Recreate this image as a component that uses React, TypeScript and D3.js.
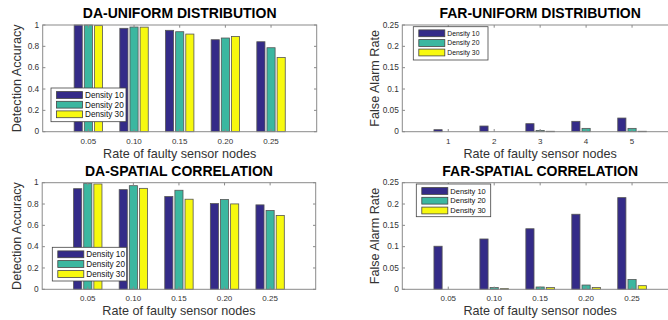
import React from "react";
import * as d3 from "d3";

// categories / tick labels
const rateLabels = ["0.05", "0.10", "0.15", "0.20", "0.25"];
const indexLabels = ["1", "2", "3", "4", "5"];
const seriesNames = ["Density 10", "Density 20", "Density 30"];
const colors = ["#342b88", "#3bb7a0", "#f7f90f"];

const daTicks = [0, 0.2, 0.4, 0.6, 0.8, 1];
const farTicks = [0, 0.05, 0.1, 0.15, 0.2, 0.25];

// values
const daUniform10 = [1.0, 0.969, 0.95, 0.862, 0.843];
const daUniform20 = [1.0, 0.981, 0.937, 0.878, 0.787];
const daUniform30 = [0.994, 0.98, 0.915, 0.893, 0.696];

const farUniform10 = [0.0047, 0.0133, 0.0188, 0.0243, 0.032];
const farUniform20 = [0, 0, 0.003, 0.0078, 0.0078];
const farUniform30 = [0, 0, 0.001, 0, 0.001];

const daSpatial10 = [0.944, 0.935, 0.87, 0.804, 0.792];
const daSpatial20 = [0.994, 0.972, 0.929, 0.842, 0.739];
const daSpatial30 = [0.988, 0.947, 0.845, 0.801, 0.693];

const farSpatial10 = [0.101, 0.118, 0.142, 0.176, 0.215];
const farSpatial20 = [0, 0.004, 0.0054, 0.01, 0.023];
const farSpatial30 = [0, 0.0015, 0.004, 0.004, 0.0085];

const axisColor = "#8a8a8a";
const textColor = "#333";
const font = "'Liberation Sans', Arial, Helvetica, sans-serif";

type Legend = { x: number; y: number; w: number; h: number; rows: number[]; fs: number };

type PanelProps = {
  title: string;
  ylabel: string;
  ylabelGap: number;
  left: number;
  top: number;
  width: number;
  height: number;
  xLabels: string[];
  series: number[][];
  yMax: number;
  yTicks: number[];
  legend: Legend;
};

function Panel(p: PanelProps) {
  const x = d3.scaleLinear().domain([0, 6]).range([p.left, p.left + p.width]);
  const y = d3.scaleLinear().domain([0, p.yMax]).range([p.top + p.height, p.top]);
  const bottom = p.top + p.height;
  const right = p.left + p.width;
  const cx = p.left + p.width / 2;
  const group = 3 / 4.5;
  const slot = group / 3;
  const bw = slot * 0.8;
  const tl = 2.7;
  const xt = d3.range(1, 6);
  const yFmt = (v: number) => String(+v.toFixed(2));
  const lg = p.legend;

  return (
    <g fontFamily={font}>
      {/* bars */}
      {p.series.map((vals, si) =>
        vals.map((v, i) => {
          const c = i + 1 + (si - 1) * slot;
          const x0 = x(c - bw / 2);
          const x1 = x(c + bw / 2);
          const h = bottom - y(v);
          if (h <= 0) return null;
          return (
            <rect
              key={`${si}-${i}`}
              x={x0}
              y={y(v)}
              width={x1 - x0}
              height={h}
              fill={colors[si]}
              stroke="#555"
              strokeWidth={0.8}
            />
          );
        })
      )}
      {/* box */}
      <rect x={p.left} y={p.top} width={p.width} height={p.height} fill="none" stroke={axisColor} strokeWidth={1} />
      {/* ticks */}
      {xt.map((t) => (
        <g key={"xt" + t}>
          <line x1={x(t)} x2={x(t)} y1={bottom} y2={bottom - tl} stroke={axisColor} />
          <line x1={x(t)} x2={x(t)} y1={p.top} y2={p.top + tl} stroke={axisColor} />
          <text x={x(t)} y={bottom + 11.8} fontSize={8} fill={textColor} textAnchor="middle">
            {p.xLabels[t - 1]}
          </text>
        </g>
      ))}
      {p.yTicks.map((t) => (
        <g key={"yt" + t}>
          <line x1={p.left} x2={p.left + tl} y1={y(t)} y2={y(t)} stroke={axisColor} />
          <line x1={right} x2={right - tl} y1={y(t)} y2={y(t)} stroke={axisColor} />
          <text x={p.left - 3.5} y={y(t)} dy="0.33em" fontSize={8.3} fill={textColor} textAnchor="end">
            {yFmt(t)}
          </text>
        </g>
      ))}
      {/* title & labels */}
      <text x={cx} y={p.top - 6.8} fontSize={14} fontWeight="bold" textAnchor="middle" fill="#000">
        {p.title}
      </text>
      <text x={cx} y={bottom + 25.8} fontSize={12.6} textAnchor="middle" fill={textColor}>
        Rate of faulty sensor nodes
      </text>
      <text
        transform={`translate(${p.left - p.ylabelGap},${p.top + p.height / 2}) rotate(-90)`}
        fontSize={12.6}
        textAnchor="middle"
        fill={textColor}
      >
        {p.ylabel}
      </text>
      {/* legend */}
      <rect x={lg.x} y={lg.y} width={lg.w} height={lg.h} fill="#fff" stroke="#444" strokeWidth={0.8} />
      {seriesNames.map((s, i) => (
        <g key={s}>
          <rect
            x={lg.x + 5.5}
            y={lg.rows[i] - 3.4}
            width={26}
            height={6.8}
            fill={colors[i]}
            stroke="#444"
            strokeWidth={0.8}
          />
          <text x={lg.x + 34} y={lg.rows[i]} dy="0.35em" fontSize={lg.fs} fill="#111">
            {s}
          </text>
        </g>
      ))}
    </g>
  );
}

export default function App() {
  return (
    <div style={{ position: "absolute", left: 0, top: 0 }}>
      <svg width={668} height={320} style={{ display: "block", background: "#fff" }}>
        <Panel
          title="DA-UNIFORM DISTRIBUTION"
          ylabel="Detection Accuracy"
          ylabelGap={21.5}
          left={42.7}
          top={25}
          width={274}
          height={106.7}
          xLabels={rateLabels}
          series={[daUniform10, daUniform20, daUniform30]}
          yMax={1}
          yTicks={daTicks}
          legend={{ x: 51, y: 88, w: 75, h: 33.7, rows: [95, 104.7, 114.3], fs: 8.2 }}
        />
        <Panel
          title="FAR-UNIFORM DISTRIBUTION"
          ylabel="False Alarm Rate"
          ylabelGap={23.3}
          left={402.3}
          top={25}
          width={275.7}
          height={106.7}
          xLabels={indexLabels}
          series={[farUniform10, farUniform20, farUniform30]}
          yMax={0.25}
          yTicks={farTicks}
          legend={{ x: 413.3, y: 26.7, w: 74.7, h: 33.3, rows: [33.3, 43, 52.5], fs: 6.8 }}
        />
        <Panel
          title="DA-SPATIAL CORRELATION"
          ylabel="Detection Accuracy"
          ylabelGap={21.5}
          left={42.2}
          top={182.7}
          width={273.5}
          height={106.6}
          xLabels={rateLabels}
          series={[daSpatial10, daSpatial20, daSpatial30]}
          yMax={1}
          yTicks={daTicks}
          legend={{ x: 52.3, y: 247.3, w: 74.4, h: 33.7, rows: [254.3, 264, 274], fs: 8.2 }}
        />
        <Panel
          title="FAR-SPATIAL CORRELATION"
          ylabel="False Alarm Rate"
          ylabelGap={23.3}
          left={402.3}
          top={182.7}
          width={275.7}
          height={106.6}
          xLabels={rateLabels}
          series={[farSpatial10, farSpatial20, farSpatial30]}
          yMax={0.25}
          yTicks={farTicks}
          legend={{ x: 416.3, y: 184, w: 74.4, h: 32.7, rows: [191, 200.7, 210.5], fs: 7.5 }}
        />
      </svg>
    </div>
  );
}
